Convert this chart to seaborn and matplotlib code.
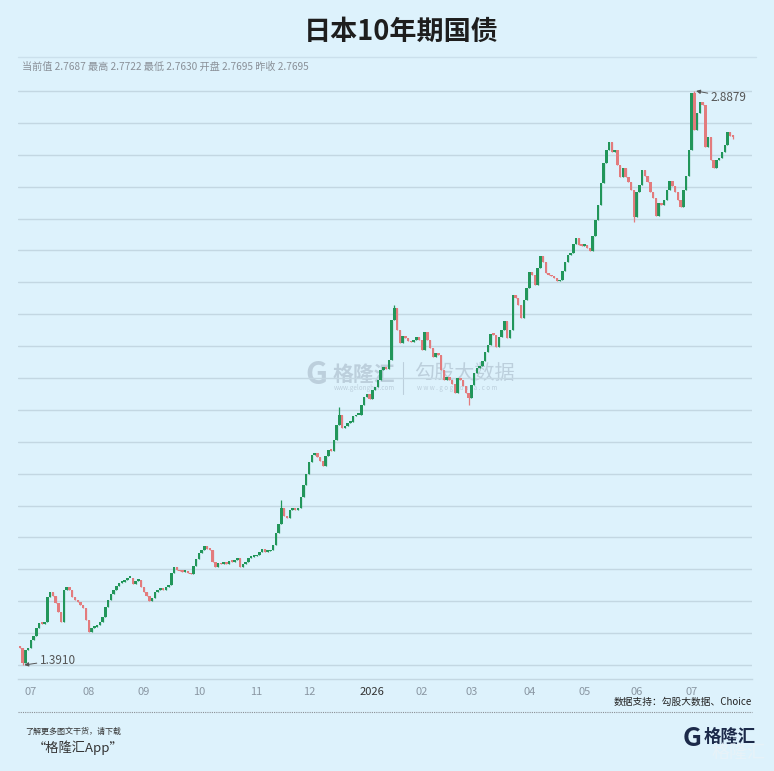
import numpy as np
import pandas as pd
import matplotlib
matplotlib.use("Agg")
import matplotlib.pyplot as plt
import seaborn as sns

# daily closes of the 10y JGB yield (%)
closes = [
    1.435, 1.396, 1.430, 1.435, 1.456, 1.467, 1.488, 1.501, 1.498, 1.503,
    1.568, 1.581, 1.571, 1.553, 1.529, 1.503, 1.587, 1.594, 1.587, 1.568,
    1.561, 1.555, 1.547, 1.540, 1.508, 1.477, 1.488, 1.490, 1.495, 1.503,
    1.516, 1.542, 1.561, 1.576, 1.587, 1.597, 1.605, 1.607, 1.613, 1.618,
    1.618, 1.602, 1.610, 1.613, 1.594, 1.581, 1.571, 1.558, 1.566, 1.581,
    1.587, 1.589, 1.587, 1.594, 1.600, 1.631, 1.647, 1.639, 1.636, 1.634,
    1.636, 1.631, 1.628, 1.649, 1.667, 1.683, 1.691, 1.701, 1.694, 1.691,
    1.660, 1.647, 1.657, 1.654, 1.660, 1.654, 1.662, 1.660, 1.665, 1.670,
    1.647, 1.654, 1.660, 1.670, 1.673, 1.675, 1.678, 1.686, 1.694, 1.686,
    1.688, 1.691, 1.704, 1.735, 1.759, 1.800, 1.780, 1.774, 1.795, 1.800,
    1.795, 1.800, 1.829, 1.860, 1.889, 1.920, 1.939, 1.944, 1.933, 1.923,
    1.910, 1.936, 1.952, 1.949, 1.978, 2.017, 2.043, 2.009, 2.014, 2.022,
    2.025, 2.040, 2.043, 2.043, 2.069, 2.090, 2.098, 2.085, 2.108, 2.116,
    2.134, 2.160, 2.168, 2.163, 2.186, 2.291, 2.322, 2.265, 2.231, 2.249,
    2.244, 2.236, 2.233, 2.239, 2.246, 2.239, 2.212, 2.259, 2.239, 2.218,
    2.194, 2.205, 2.199, 2.160, 2.134, 2.142, 2.134, 2.124, 2.100, 2.139,
    2.134, 2.119, 2.100, 2.087, 2.121, 2.152, 2.166, 2.171, 2.184, 2.207,
    2.226, 2.254, 2.252, 2.220, 2.246, 2.265, 2.288, 2.244, 2.265, 2.356,
    2.348, 2.330, 2.296, 2.343, 2.374, 2.416, 2.408, 2.382, 2.426, 2.458,
    2.442, 2.413, 2.408, 2.405, 2.400, 2.392, 2.395, 2.418, 2.442, 2.460,
    2.465, 2.489, 2.505, 2.486, 2.484, 2.486, 2.478, 2.471, 2.510, 2.551,
    2.591, 2.648, 2.700, 2.734, 2.755, 2.729, 2.734, 2.695, 2.664, 2.687,
    2.664, 2.651, 2.630, 2.559, 2.624, 2.643, 2.682, 2.666, 2.651, 2.624,
    2.609, 2.562, 2.596, 2.591, 2.604, 2.630, 2.653, 2.640, 2.624, 2.604,
    2.585, 2.630, 2.666, 2.734, 2.883, 2.786, 2.831, 2.859, 2.851, 2.742,
    2.768, 2.708, 2.687, 2.708, 2.713, 2.729, 2.747, 2.780, 2.7695, 2.7687,
]
first_open = 1.440

# wicks that stick out of the bodies
wick_high = {95: 1.820, 116: 2.064, 136: 2.330, 245: 2.8879, 259: 2.7722}
wick_low = {1: 1.3910, 163: 2.069, 223: 2.545, 259: 2.7630}

# month labels and the candle where each month starts
month_pos = [4, 25, 45, 65, 86, 105, 128, 146, 164, 185, 205, 224, 244]
month_labels = ["07", "08", "09", "10", "11", "12", "2026",
                "02", "03", "04", "05", "06", "07"]

title = "日本10年期国债"
info = "当前值 2.7687 最高 2.7722 最低 2.7630 开盘 2.7695 昨收 2.7695"
low_label = "1.3910"
high_label = "2.8879"

# build the ohlc table
opens = [first_open] + closes[:-1]
df = pd.DataFrame({"open": opens, "close": closes})
df["high"] = df[["open", "close"]].max(axis=1)
df["low"] = df[["open", "close"]].min(axis=1)
for k, v in wick_high.items():
    df.loc[k, "high"] = v
for k, v in wick_low.items():
    df.loc[k, "low"] = v
df["x"] = np.arange(len(df))
df["up"] = df["close"] >= df["open"]

bg = "#ddf2fc"
green = "#21965a"
red = "#e37b7d"
grid_c = "#c3d7e2"

sns.set_theme(style="white")
plt.rcParams["font.family"] = ["Noto Sans CJK SC", "DejaVu Sans"]

W, H = 774, 771
fig = plt.figure(figsize=(W / 100, H / 100), dpi=100, facecolor=bg)


def fx(px):
    return px / W


def fy(py):
    return 1 - py / H


ax = fig.add_axes([fx(18), fy(679), fx(752) - fx(18), fy(85) - fy(679)])
ax.patch.set_alpha(0)

# candles
for up, color in [(True, green), (False, red)]:
    d = df[df["up"] == up]
    ax.vlines(d["x"], d["low"], d["high"], color=color, lw=0.9, zorder=3)
    body = (d["close"] - d["open"]).abs().clip(lower=0.004)
    ax.bar(d["x"], body, bottom=d[["open", "close"]].min(axis=1),
           width=0.9, color=color, linewidth=0, zorder=3)

lo, hi = df["low"].min(), df["high"].max()
ax.set_xlim(-0.7, 265.9)
ax.set_ylim(1.3545, 2.9035)
ax.set_yticks(np.linspace(lo, hi, 19))
ax.grid(axis="y", color=grid_c, lw=1)
ax.grid(axis="x", visible=False)
ax.tick_params(axis="y", left=False, labelleft=False)
ax.set_xticks(month_pos)
ax.set_xticklabels(month_labels)
ax.tick_params(axis="x", length=0, labelsize=8, colors="#8a97a3", pad=6)
for lab in ax.get_xticklabels():
    if lab.get_text() == "2026":
        lab.set_color("#333333")
for s in ["top", "left", "right"]:
    ax.spines[s].set_visible(False)
ax.spines["bottom"].set_color(grid_c)
ax.spines["bottom"].set_linewidth(1)

# min / max markers
i_lo = int(df["low"].idxmin())
i_hi = int(df["high"].idxmax())
ax.annotate(low_label, xy=(i_lo + 0.6, lo), xytext=(7.3, 1.404),
            fontsize=8.5, color="#555555", va="center", ha="left",
            arrowprops=dict(arrowstyle="-|>", color="#555555", lw=0.7,
                            mutation_scale=6, shrinkA=0, shrinkB=0))
ax.annotate(high_label, xy=(i_hi + 0.6, hi), xytext=(251, 2.872),
            fontsize=8.5, color="#555555", va="center", ha="left",
            arrowprops=dict(arrowstyle="-|>", color="#555555", lw=0.7,
                            mutation_scale=6, shrinkA=0, shrinkB=0))

# header
fig.text(fx(401), fy(32), title, ha="center", va="center", fontsize=19.5,
         fontweight="bold", color="#1e1e1e")
fig.add_artist(plt.Line2D([fx(18), fx(756)], [fy(57), fy(57)],
                          color="#cbe0ec", lw=1))
fig.text(fx(22), fy(67), info, ha="left", va="center", fontsize=7.3,
         color="#8a9098")

# watermark behind the candles
wm = "#bccfdc"
fig.text(fx(316), fy(375), "G", ha="center", va="center", fontsize=22,
         fontweight="bold", color=wm, zorder=-1)
fig.text(fx(333), fy(374), "格隆汇", ha="left", va="center", fontsize=15,
         fontweight="bold", color=wm, zorder=-1)
fig.text(fx(334), fy(388), "www.gelonghui.com", ha="left", va="center",
         fontsize=4.5, color=wm, zorder=-1)
fig.add_artist(plt.Line2D([fx(403), fx(403)], [fy(362), fy(394)],
                          color=wm, lw=0.8, zorder=-1))
fig.text(fx(414), fy(373), "勾股大数据", ha="left", va="center", fontsize=14.5,
         color=wm, zorder=-1)
fig.text(fx(417), fy(388), "w w w . g o g u d a t a . c o m", ha="left",
         va="center", fontsize=4.5, color=wm, zorder=-1)

# source and footer
fig.text(fx(752), fy(702), "数据支持：勾股大数据、Choice", ha="right",
         va="center", fontsize=7, color="#222222")
fig.add_artist(plt.Line2D([fx(18), fx(752)], [fy(712), fy(712)],
                          color="#8a8f95", lw=0.8, ls=(0, (1, 1))))
fig.text(fx(25), fy(731), "了解更多图文干货，请下载", ha="left", va="center",
         fontsize=5.8, color="#333333")
fig.text(fx(33), fy(748), "“格隆汇App”", ha="left", va="center",
         fontsize=9.5, color="#333333")

# bottom-right logo
navy = "#1c2a4a"
fig.text(fx(692), fy(739), "G", ha="center", va="center", fontsize=19,
         fontweight="bold", color=navy)
fig.text(fx(704), fy(737), "格隆汇", ha="left", va="center", fontsize=12.5,
         fontweight="bold", color=navy)
fig.text(fx(712), fy(753), "格隆汇", ha="left", va="center", fontsize=13,
         color="#e9f3f8", alpha=0.9)

fig.savefig("out.png", dpi=100, facecolor=bg)
